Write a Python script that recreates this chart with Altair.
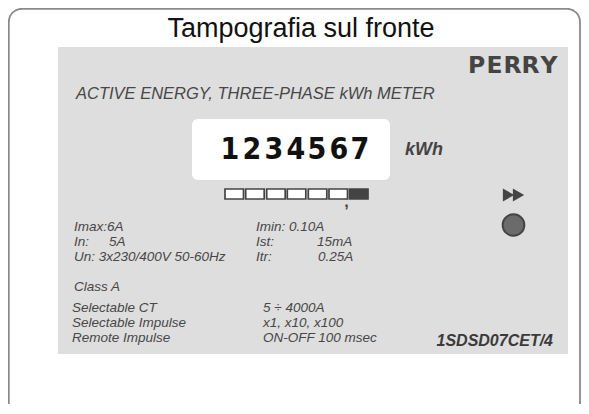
import altair as alt
import pandas as pd

# ---------------- content ----------------
title_text = ["Tampografia sul fronte"]
brand_letters = ["P", "E", "R", "R", "Y"]
heading = ["ACTIVE ENERGY, THREE-PHASE kWh METER"]
digits = ["1", "2", "3", "4", "5", "6", "7"]
unit = ["kWh"]
comma = [","]
spec_left = ["Imax:", "6A", "In:", "5A", "Un: 3x230/400V 50-60Hz"]
spec_right = ["Imin: 0.10A", "Ist:", "15mA", "Itr:", "0.25A"]
class_text = ["Class A"]
options_left = ["Selectable CT", "Selectable Impulse", "Remote Impulse"]
options_right = ["5 \u00f7 4000A", "x1, x10, x100", "ON-OFF 100 msec"]
model = ["1SDSD07CET/4"]
decimal_cells = ["int", "int", "int", "int", "int", "int", "dec"]

# ---------------- layout (page pixel coordinates) ----------------
title_pos = ([301], [37])
brand_x = [476.5, 494.5, 512.5, 530.5, 549]
brand_y = [66] * 5
heading_pos = ([76], [94])
digit_x = [230, 252, 274, 296, 317, 339, 360]
digit_y = [150] * 7
unit_pos = ([405], [150])
comma_pos = ([346.5], [202])
spec_left_x = [74, 107, 74, 109, 74]
spec_left_y = [227, 227, 242, 242, 257]
spec_right_x = [256, 256, 317, 256, 318]
spec_right_y = [227, 242, 242, 257, 257]
class_pos = ([74], [287])
options_left_x = [72, 72, 72]
options_right_x = [263, 263, 263]
options_y = [308, 323, 338]
model_pos = ([553], [341])
cell_x = [225, 245.7, 266.7, 287.3, 308.3, 329, 349.5]
cell_w = 18.5
cell_y = (189, 199)

W, H = 573, 396
xs = alt.Scale(domain=[8, 8 + W], nice=False, zero=False)
ys = alt.Scale(domain=[8, 8 + H], nice=False, zero=False, reverse=True)

FONT = "Liberation Sans, Arial, Helvetica, sans-serif"
TXT = "#474747"


def enc_xy(extra=None):
    d = dict(
        x=alt.X("x:Q", scale=xs, axis=None),
        y=alt.Y("y:Q", scale=ys, axis=None),
    )
    if extra:
        d.update(extra)
    return d


def text_layer(texts, xs_, ys_, **mk):
    df = pd.DataFrame({"t": texts, "x": xs_, "y": ys_})
    opts = dict(baseline="middle", align="left", font=FONT, color=TXT)
    opts.update(mk)
    return alt.Chart(df).mark_text(**opts).encode(**enc_xy({"text": alt.Text("t:N")}))


def rect_layer(x1, x2, y1, y2, **mk):
    df = pd.DataFrame({"x": x1, "x2": x2, "y": y1, "y2": y2})
    return alt.Chart(df).mark_rect(**mk).encode(
        x=alt.X("x:Q", scale=xs, axis=None),
        x2="x2:Q",
        y=alt.Y("y:Q", scale=ys, axis=None),
        y2="y2:Q",
    )


border = rect_layer([8.8], [580], [8.8], [421], cornerRadius=13, fill="white",
                    fillOpacity=0, stroke="#8a8a8a", strokeWidth=1.8)
panel = rect_layer([58], [568], [47], [354], fill="#dedede")
window = rect_layer([192], [390], [119], [180], fill="white", cornerRadius=6)

cells_df = pd.DataFrame({
    "x": cell_x,
    "x2": [c + cell_w for c in cell_x],
    "y": [cell_y[0]] * 7,
    "y2": [cell_y[1]] * 7,
    "kind": decimal_cells,
})
cells = alt.Chart(cells_df).mark_rect(stroke="#444444", strokeWidth=1.7).encode(
    x=alt.X("x:Q", scale=xs, axis=None),
    x2="x2:Q",
    y=alt.Y("y:Q", scale=ys, axis=None),
    y2="y2:Q",
    fill=alt.Fill("kind:N", scale=alt.Scale(domain=["int", "dec"], range=["white", "#444444"]), legend=None),
)

arrows = alt.Chart(pd.DataFrame({"x": [508.5, 518.5], "y": [195, 195]})).mark_point(
    shape="triangle-right", filled=True, size=170, color="#444444", opacity=1
).encode(**enc_xy())

led = alt.Chart(pd.DataFrame({"x": [513.5], "y": [225]})).mark_circle(
    size=470, color="#6b6b6b", opacity=1, stroke="#454545", strokeWidth=2
).encode(**enc_xy())

layers = [
    border, panel, window, cells, arrows, led,
    text_layer(title_text, *title_pos, align="center", baseline="alphabetic",
               fontSize=27, color="#111111"),
    text_layer(brand_letters, brand_x, brand_y, align="center", fontSize=23.5,
               fontWeight="bold", font="DejaVu Sans, sans-serif", color="#444444"),
    text_layer(heading, *heading_pos, fontSize=16.5, fontStyle="italic"),
    text_layer(digits, digit_x, digit_y, align="center", fontSize=30,
               fontWeight="bold", font="Liberation Sans Narrow, DejaVu Sans Condensed, sans-serif",
               color="#111111"),
    text_layer(unit, *unit_pos, fontSize=18, fontStyle="italic", fontWeight="bold",
               color="#444444"),
    text_layer(comma, *comma_pos, align="center", fontSize=16, fontWeight="bold",
               color="#444444"),
    text_layer(spec_left, spec_left_x, spec_left_y, fontSize=13.5, fontStyle="italic"),
    text_layer(spec_right, spec_right_x, spec_right_y, fontSize=13.5, fontStyle="italic"),
    text_layer(class_text, *class_pos, fontSize=13.5, fontStyle="italic"),
    text_layer(options_left, options_left_x, options_y, fontSize=13.5, fontStyle="italic"),
    text_layer(options_right, options_right_x, options_y, fontSize=13.5, fontStyle="italic"),
    text_layer(model, *model_pos, align="right", fontSize=16, fontStyle="italic",
               fontWeight="bold", color="#3a3a3a"),
]

chart = alt.layer(*layers).properties(
    width=W, height=H, padding=0, autosize="none"
).configure_view(stroke=None)

chart.save("out.html", embed_options={"renderer": "svg", "actions": False})
